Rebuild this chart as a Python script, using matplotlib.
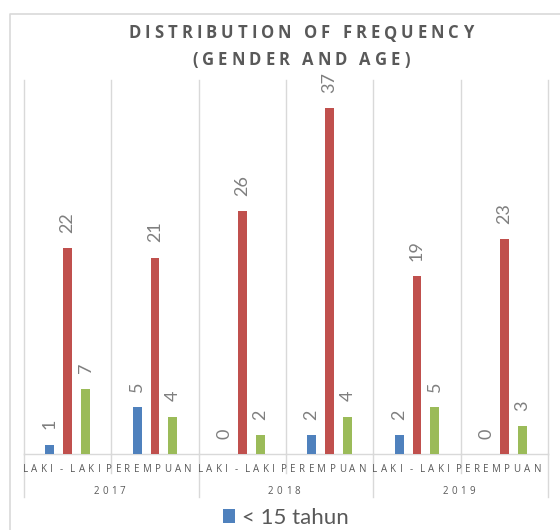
import numpy as np
import matplotlib
matplotlib.use('Agg')
import matplotlib.pyplot as plt
from matplotlib.font_manager import FontProperties, findfont, get_font
from matplotlib.transforms import IdentityTransform

# ---- data ----
categories = ['LAKI - LAKI', 'PEREMPUAN', 'LAKI - LAKI', 'PEREMPUAN', 'LAKI - LAKI', 'PEREMPUAN']
years = ['2017', '2018', '2019']
series_names = ['< 15 tahun', '15 - 25 tahun', '> 25 tahun']
under_15 = [1, 5, 0, 2, 2, 0]
age_15_25 = [22, 21, 26, 37, 19, 23]
over_25 = [7, 4, 2, 4, 5, 3]
title_lines = ['DISTRIBUTION OF FREQUENCY', '(GENDER AND AGE)']

colors = ['#4F81BD', '#C0504D', '#9BBB59']
grid_c = '#d9d9d9'
text_c = '#595959'
label_c = '#7f7f7f'

W, H = 560, 530
fig = plt.figure(figsize=(W / 100, H / 100), dpi=100)
ax_l, ax_r, ax_b, ax_t = 24, 548, 454, 80
ax = fig.add_axes([ax_l / W, 1 - ax_b / H, (ax_r - ax_l) / W, (ax_b - ax_t) / H])
ax.axis('off')

x = np.arange(len(categories))
bw, off = 0.103, 0.206
containers = []
for i, (vals, c, name) in enumerate(zip([under_15, age_15_25, over_25], colors, series_names)):
    bars = ax.bar(x + (i - 1) * off, vals, bw, color=c, label=name, zorder=3)
    containers.append(bars)
    for b, v in zip(bars, vals):
        ax.annotate(str(v), (b.get_x() + b.get_width() / 2, v), xytext=(0, 11),
                    textcoords='offset points', rotation=90, ha='center', va='bottom',
                    fontsize=13, color=label_c, family='Lato', annotation_clip=False)

ax.set_xlim(-0.5, len(categories) - 0.5)
ax.set_ylim(0, 40)

# gridlines at category boundaries
px_per_unit = (ax_b - ax_t) / 40
for k, bnd in enumerate(np.arange(-0.5, len(categories), 1)):
    ax.plot([bnd, bnd], [0, 40], color=grid_c, lw=1, zorder=1, clip_on=False)
    depth = 43 if k % 2 == 0 else 19
    ax.plot([bnd, bnd], [0, -depth / px_per_unit], color=grid_c, lw=1, zorder=1, clip_on=False)
ax.plot([-0.5, len(categories) - 0.5], [0, 0], color=grid_c, lw=1, zorder=2, clip_on=False)


def spaced_text(s, cx, y_img, spacing, size, family, weight='normal', color=text_c, space_scale=1.0):
    prop = FontProperties(family=family, size=size, weight=weight)
    font = get_font(findfont(prop))
    font.set_size(prop.get_size_in_points(), fig.dpi)
    adv = []
    for ch in s:
        a = font.load_char(ord(ch)).linearHoriAdvance / 65536
        if ch == ' ':
            a *= space_scale
        adv.append(a)
    total = sum(adv) + spacing * (len(s) - 1)
    xpos = cx - total / 2
    for ch, a in zip(s, adv):
        if ch != ' ':
            fig.text(xpos, H - y_img, ch, transform=IdentityTransform(), fontproperties=prop,
                     color=color, ha='left', va='baseline')
        xpos += a + spacing


# category labels
for xi, lab in zip(x, categories):
    cx = ax.transData.transform((xi, 0))[0]
    spaced_text(lab, cx - 6, 472, 3.4, 7, 'Open Sans', space_scale=0.1)
for gi, yr in enumerate(years):
    cx = ax.transData.transform((2 * gi + 0.5, 0))[0]
    spaced_text(yr, cx - 2, 494, 3.4, 7, 'Open Sans')

# title
spaced_text(title_lines[0], 301, 38.5, 4.0, 12, 'Open Sans', weight='bold')
spaced_text(title_lines[1], 301, 65, 4.0, 12, 'Open Sans', weight='bold')

# chart border (left and top)
fig.add_artist(plt.Line2D([9.5 / W, 9.5 / W, 1], [0, 1 - 13.5 / H, 1 - 13.5 / H],
                          transform=fig.transFigure, color=grid_c, lw=1.2))

# legend
fig.legend(handles=[containers[0]], labels=[series_names[0]], loc='center',
           bbox_to_anchor=(286 / W, 1 - 518 / H), frameon=False,
           prop=FontProperties(family='Lato', size=16), labelcolor=text_c,
           handlelength=0.55, handleheight=0.55, handletextpad=0.3, borderpad=0)

fig.savefig('out.png', dpi=100)
